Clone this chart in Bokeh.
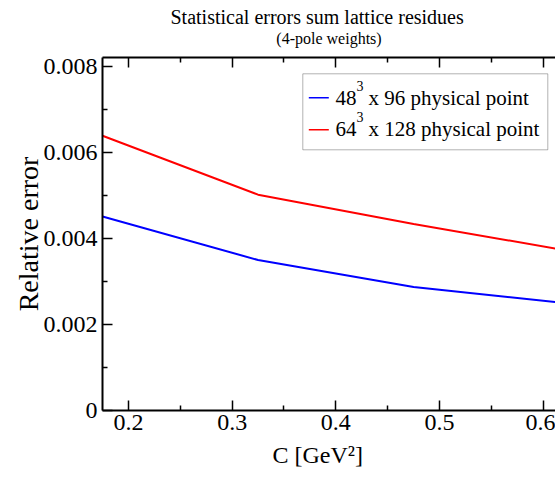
from bokeh.plotting import figure
from bokeh.models import (Range1d, LinearAxis, FixedTicker, CustomJSTickFormatter,
                          Label, BoxAnnotation, Arrow, Title)
from bokeh.embed import file_html
from bokeh.resources import INLINE

# ---- data ----
c_values = [0.175, 0.325, 0.475, 0.625]
err_48 = [0.00451, 0.00350, 0.00287, 0.00249]
err_64 = [0.00639, 0.00502, 0.00434, 0.00371]
x_major = [0.2, 0.3, 0.4, 0.5, 0.6]
x_minor = [0.25, 0.35, 0.45, 0.55, 0.65]
y_major = [0, 0.002, 0.004, 0.006, 0.008]
y_minor = [0.001, 0.003, 0.005, 0.007]
title_text = "Statistical errors sum lattice residues"
subtitle_text = "(4-pole weights)"
y_label = "Relative error"
x_label = "C [GeV\u00b2]"

FONT = "Liberation Serif"
W, H = 555, 477
ML, MT, MB = 102, 57, 67
PX_PER_UNIT = 1037.0
X0 = 0.175

p = figure(width=W, height=H, output_backend="svg", toolbar_location=None,
           title=None,
           x_range=Range1d(X0, X0 + (W - ML) / PX_PER_UNIT),
           y_range=Range1d(0, 0.00821),
           min_border_left=ML, min_border_right=0, min_border_top=MT,
           min_border_bottom=MB)
p.outline_line_color = None
p.background_fill_color = "white"
p.border_fill_color = "white"
p.xgrid.visible = False
p.ygrid.visible = False

p.line(c_values, err_48, line_color="#0000ff", line_width=2)
p.line(c_values, err_64, line_color="#ff0000", line_width=2)


def style_axis(ax):
    ax.axis_line_color = "black"
    ax.axis_line_width = 2
    ax.major_tick_in = 10
    ax.major_tick_out = 0
    ax.minor_tick_in = 5
    ax.minor_tick_out = 0
    ax.major_tick_line_color = "black"
    ax.minor_tick_line_color = "black"
    ax.major_tick_line_width = 1.5
    ax.minor_tick_line_width = 1.5
    ax.major_label_text_font = FONT
    ax.major_label_text_font_size = "24px"
    ax.major_label_text_color = "black"
    ax.axis_label_text_font = FONT
    ax.axis_label_text_font_style = "normal"
    ax.axis_label_text_color = "black"


xa = p.xaxis[0]
style_axis(xa)
xa.ticker = FixedTicker(ticks=x_major, minor_ticks=x_minor)
xa.formatter = CustomJSTickFormatter(code="return tick.toFixed(1);")
xa.major_label_standoff = 4

ya = p.yaxis[0]
style_axis(ya)
ya.ticker = FixedTicker(ticks=y_major, minor_ticks=y_minor)
ya.formatter = CustomJSTickFormatter(code="return tick == 0 ? '0' : tick.toFixed(3);")
ya.major_label_standoff = 5
ya.axis_label = y_label
ya.axis_label_text_font_size = "28px"
ya.axis_label_standoff = -3

top = LinearAxis(ticker=FixedTicker(ticks=x_major, minor_ticks=x_minor),
                 formatter=CustomJSTickFormatter(code="return '';"))
style_axis(top)
top.major_label_standoff = 0
top.major_label_text_font_size = "0px"
p.add_layout(top, "above")

# subtitle carried by an invisible top axis, centred on a shorter span
sub_axis = LinearAxis(ticker=FixedTicker(ticks=x_major),
                      formatter=CustomJSTickFormatter(code="return '';"),
                      bounds=(X0, X0 + (2 * 314.5 - 2 * 101.7) / PX_PER_UNIT))
style_axis(sub_axis)
sub_axis.axis_line_color = None
sub_axis.major_tick_line_color = None
sub_axis.minor_tick_line_color = None
sub_axis.major_tick_in = 0
sub_axis.minor_tick_in = 0
sub_axis.major_label_standoff = 0
sub_axis.major_label_text_font_size = "0px"
sub_axis.axis_label = subtitle_text
sub_axis.axis_label_text_font_size = "16px"
sub_axis.axis_label_standoff = 11
p.add_layout(sub_axis, "above")

p.add_layout(Title(text=title_text, text_font=FONT, text_font_size="20px",
                   text_font_style="normal", text_color="black", align="left",
                   offset=68, standoff=-3), "above")

# x axis label
p.add_layout(Title(text=x_label, text_font=FONT, text_font_size="24px",
                   text_font_style="normal", text_color="black", align="left",
                   offset=170, standoff=15), "below")


def lab(x, y, text, size, align="left"):
    p.add_layout(Label(x=x, y=y, x_units="screen", y_units="screen", text=text,
                       text_font=FONT, text_font_size=size, text_color="black",
                       text_align=align, text_baseline="alphabetic"))


# legend (frame-relative screen coords)
p.add_layout(BoxAnnotation(left=200.3, right=445.3, top=336.7, bottom=260.7,
                           left_units="screen", right_units="screen",
                           top_units="screen", bottom_units="screen",
                           fill_color="white", fill_alpha=1.0,
                           line_color="black", line_width=1))
legend_rows = [("48", "x 96 physical point", "#0000ff", 312.7, 313.0),
               ("64", "x 128 physical point", "#ff0000", 280.7, 281.3)]
for base, rest, col, ly, by in legend_rows:
    p.add_layout(Arrow(start=None, end=None, x_start=206.3, y_start=ly,
                       x_end=226.3, y_end=ly, start_units="screen",
                       end_units="screen", line_color=col, line_width=1.5))
    lab(233, by, base, "21px")
    lab(254, by + 12, "3", "14px")
    lab(266, by, rest, "21px")

open("out.html", "w").write(file_html(p, INLINE))
